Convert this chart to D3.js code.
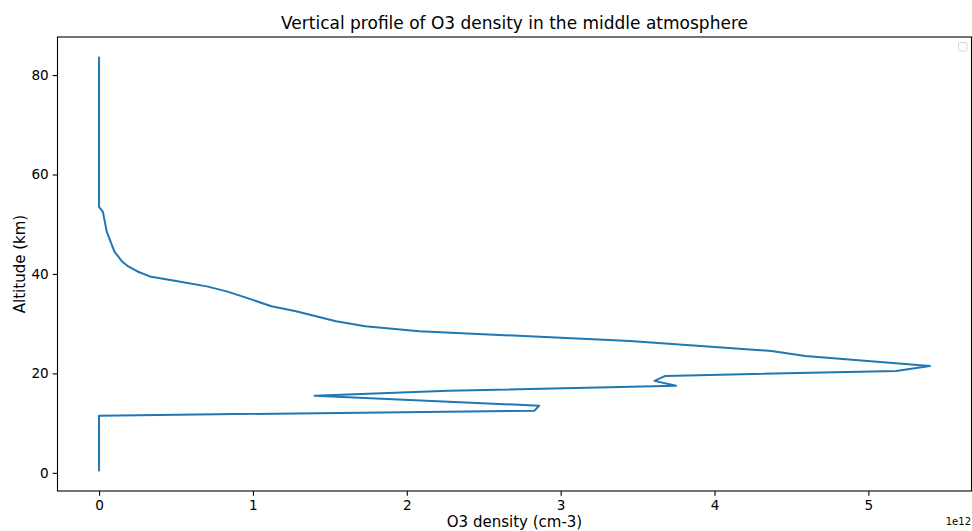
<!DOCTYPE html>
<html>
<head>
<meta charset="utf-8">
<script src="https://cdn.jsdelivr.net/npm/d3@7"></script>
<style>
  html, body { margin: 0; padding: 0; background: #fff; }
  svg { display: block; font-family: "DejaVu Sans", sans-serif; }
</style>
</head>
<body>
<svg id="chart" width="972" height="531"></svg>
<script>
// ---- Data ----
const altitudeKm = [0.5, 11.5, 12.5, 13.5, 15.5, 16.5, 17.5, 18.5, 19.5, 20.5, 21.5, 23.5, 24.5, 26.5, 28.5, 29.5, 30.5, 32.5, 33.5, 35.5, 36.5, 37.5, 38.5, 39.5, 40.5, 41.5, 42.5, 44.5, 48.5, 52.5, 53.5, 83.5];
const o3Density = [0, 0, 2.83e12, 2.86e12, 1.40e12, 2.27e12, 3.75e12, 3.61e12, 3.68e12, 5.18e12, 5.40e12, 4.59e12, 4.37e12, 3.45e12, 2.08e12, 1.73e12, 1.54e12, 1.28e12, 1.12e12, 0.93e12, 0.83e12, 0.70e12, 0.52e12, 0.33e12, 0.25e12, 0.19e12, 0.15e12, 0.10e12, 0.05e12, 0.025e12, 0, 0];
const xTicks = [0, 1e12, 2e12, 3e12, 4e12, 5e12];
const yTicks = [0, 20, 40, 60, 80];
const titleText = "Vertical profile of O3 density in the middle atmosphere";
const xLabel = "O3 density (cm-3)";
const yLabel = "Altitude (km)";
const offsetLabel = "1e12";

// ---- Layout ----
const svg = d3.select("#chart");
const L = 57.5, R = 971.5, T = 37, B = 491;

const xmin = d3.min(o3Density), xmax = d3.max(o3Density);
const xpad = (xmax - xmin) * 0.05;
const ymin = d3.min(altitudeKm), ymax = d3.max(altitudeKm);
const ypad = (ymax - ymin) * 0.05;

const x = d3.scaleLinear().domain([xmin - xpad, xmax + xpad]).range([L, R]);
const y = d3.scaleLinear().domain([ymin - ypad, ymax + ypad]).range([B, T]);

const data = altitudeKm.map((a, i) => ({ alt: a, v: o3Density[i] }));

// line
svg.append("path")
  .datum(data)
  .attr("fill", "none")
  .attr("stroke", "#1f77b4")
  .attr("stroke-width", 2)
  .attr("stroke-linejoin", "round")
  .attr("stroke-linecap", "square")
  .attr("d", d3.line().x(d => x(d.v)).y(d => y(d.alt)));

// axes
const xAxis = d3.axisBottom(x).tickValues(xTicks).tickFormat(d => d3.format("d")(d / 1e12)).tickSizeOuter(0).tickSize(4.8).tickPadding(4);
const yAxis = d3.axisLeft(y).tickValues(yTicks).tickFormat(d3.format("d")).tickSizeOuter(0).tickSize(4.8).tickPadding(4);

const gx = svg.append("g").attr("transform", `translate(0,${B})`).call(xAxis);
const gy = svg.append("g").attr("transform", `translate(${L},0)`).call(yAxis);
[gx, gy].forEach(g => {
  g.select(".domain").remove();
  g.selectAll("line").attr("stroke", "#000").attr("stroke-width", 1.1);
  g.selectAll("text").attr("fill", "#000").attr("font-size", "13.6px").attr("font-family", "DejaVu Sans");
});
gx.selectAll("text").attr("dy", null).attr("y", 19);

// frame (spines)
svg.append("rect")
  .attr("x", L).attr("y", T).attr("width", R - L).attr("height", B - T)
  .attr("fill", "none").attr("stroke", "#000").attr("stroke-width", 1.1);

// title
svg.append("text")
  .attr("x", (L + R) / 2).attr("y", 29)
  .attr("text-anchor", "middle")
  .attr("font-size", "17px")
  .attr("fill", "#000")
  .text(titleText);

// axis labels
svg.append("text")
  .attr("x", (L + R) / 2).attr("y", 526.5)
  .attr("text-anchor", "middle")
  .attr("font-size", "15px")
  .attr("fill", "#000")
  .text(xLabel);

svg.append("text")
  .attr("transform", `translate(24.5,${(T + B) / 2}) rotate(-90)`)
  .attr("text-anchor", "middle")
  .attr("font-size", "15px")
  .attr("fill", "#000")
  .text(yLabel);

// offset text
svg.append("text")
  .attr("x", R - 0.5).attr("y", 525)
  .attr("text-anchor", "end")
  .attr("font-size", "10px")
  .attr("fill", "#000")
  .text(offsetLabel);

// empty legend frame
svg.append("rect")
  .attr("x", 958.5).attr("y", 42.5).attr("width", 8.5).attr("height", 8.5)
  .attr("rx", 1.5)
  .attr("fill", "#fff").attr("stroke", "#d5d5d5").attr("stroke-width", 1);
</script>
</body>
</html>
